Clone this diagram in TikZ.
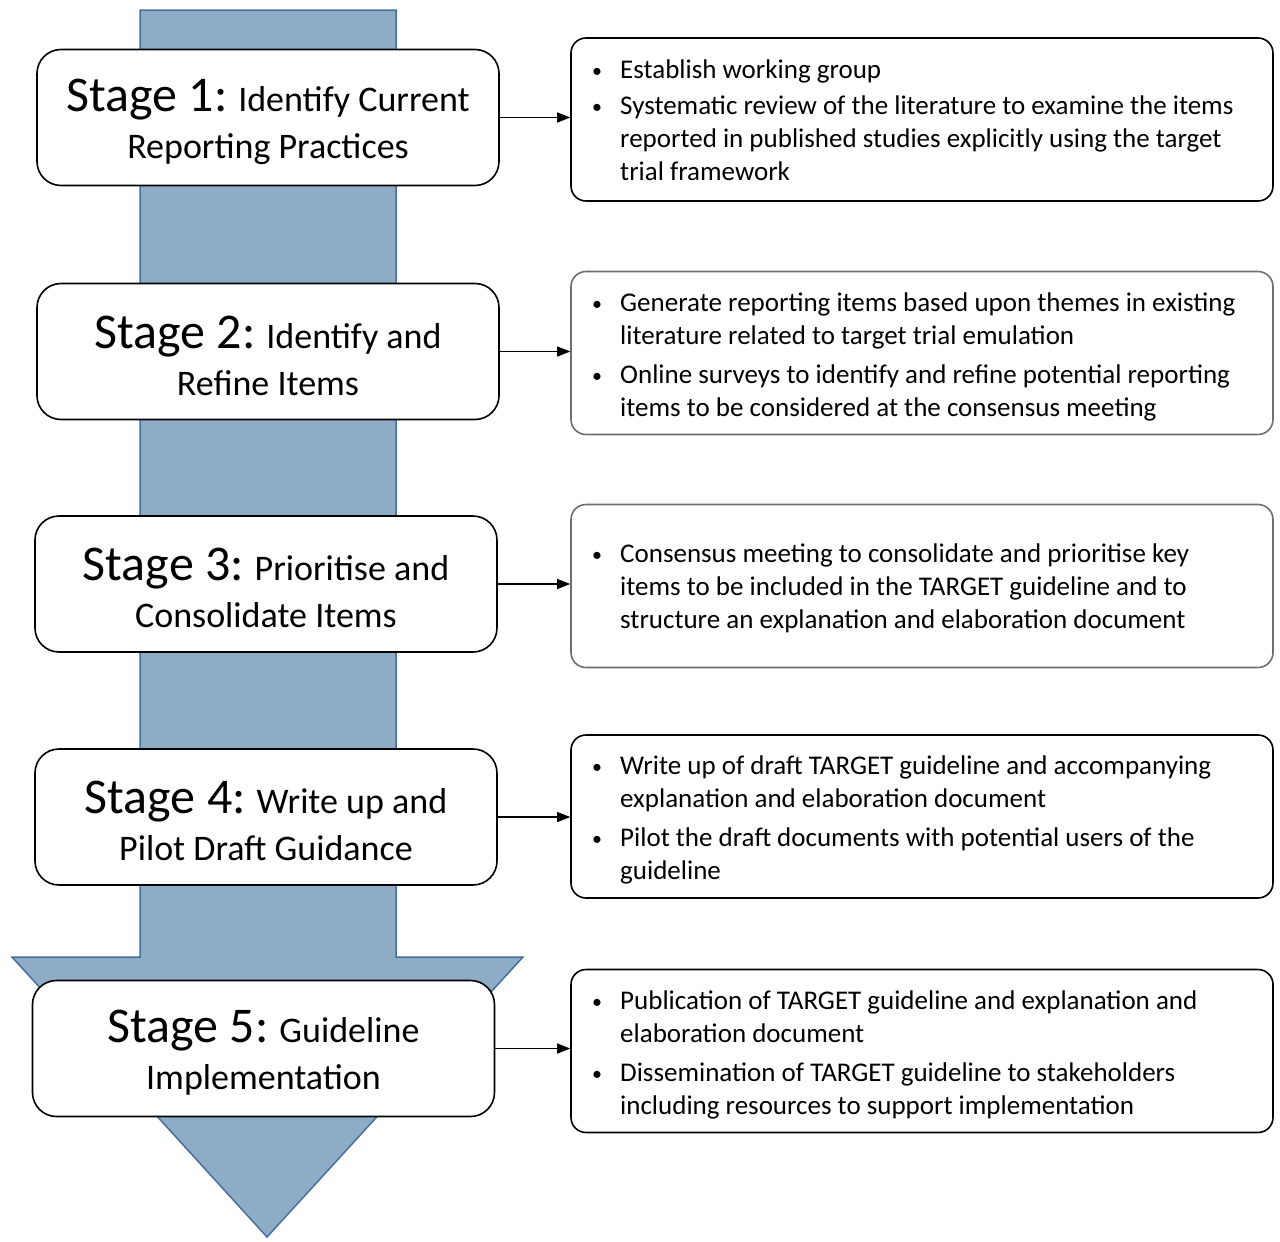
\documentclass[tikz,border=0pt]{standalone}
\usepackage{fontspec}
\setmainfont{Carlito}
\usetikzlibrary{arrows.meta}
\definecolor{arrowfill}{RGB}{143,172,198}
\definecolor{arrowline}{RGB}{68,112,160}
\definecolor{graybox}{RGB}{110,110,110}
\newcommand{\stg}[2]{{\fontsize{50}{50}\selectfont Stage #1:} #2}
\tikzset{
  stagebox/.style={draw=black, line width=1.6pt, fill=white, rounded corners=24pt,
    minimum width=462pt, minimum height=136pt, inner sep=0pt},
  stagetext/.style={align=center, inner sep=0pt, yshift=-4pt,
    font=\fontsize{36}{47}\selectfont},
  infobox/.style={draw=black, line width=1.6pt, fill=white, rounded corners=15pt,
    minimum width=702pt, minimum height=163pt, inner sep=0pt},
  infotext/.style={anchor=west, inner sep=0pt, align=left,
    font=\fontsize{27}{33}\selectfont},
  link/.style={line width=1.2pt, -{Triangle[length=13pt,width=10pt]}},
}
\newcommand{\bl}{\raisebox{1pt}{\fontsize{20}{20}\selectfont\textbullet}}
\begin{document}
\begin{tikzpicture}[x=1pt,y=-1pt]
\useasboundingbox (0,0) rectangle (1280,1242);
% big arrow
\draw[arrowline, line width=1.5pt, fill=arrowfill, line join=miter]
  (140,10) -- (396,10) -- (396,957) -- (523,957) -- (267,1237) -- (12,957) -- (140,957) -- cycle;
% stage boxes
\node[stagebox] (s1) at (268,117.5) {};
\node[stagebox] (s2) at (268,351.5) {};
\node[stagebox] (s3) at (266,584) {};
\node[stagebox] (s4) at (266,817) {};
\node[stagebox] (s5) at (263.5,1048.5) {};
\node[stagetext] (l1) at (s1.center) {\stg{1}{Identify Current}\\Reporting Practices};
\node[stagetext] (l2) at (s2.center) {\stg{2}{Identify and}\\Refine Items};
\node[stagetext] (l3) at (s3.center) {\stg{3}{Prioritise and}\\Consolidate Items};
\node[stagetext] (l4) at (s4.center) {\stg{4}{Write up and}\\Pilot Draft Guidance};
\node[stagetext] (l5) at (s5.center) {\stg{5}{Guideline}\\Implementation};
% info boxes
\node[infobox] (b1) at (922,119.5) {};
\node[infobox, draw=graybox] (b2) at (922,353) {};
\node[infobox, draw=graybox] (b3) at (922,586) {};
\node[infobox] (b4) at (922,816.5) {};
\node[infobox] (b5) at (922,1051) {};
% info texts
\node[infotext] (t1) at (592,123) {\begin{tabular}{@{}p{28pt}@{}l@{}}
\bl & Establish working group\\[3pt]
\bl & Systematic review of the literature to examine the items\\
 & reported in published studies explicitly using the target\\
 & trial framework
\end{tabular}};
\node[infotext] (t2) at (592,357) {\begin{tabular}{@{}p{28pt}@{}l@{}}
\bl & Generate reporting items based upon themes in existing\\
 & literature related to target trial emulation\\[6pt]
\bl & Online surveys to identify and refine potential reporting\\
 & items to be considered at the consensus meeting
\end{tabular}};
\node[infotext] (t3) at (592,589) {\begin{tabular}{@{}p{28pt}@{}l@{}}
\bl & Consensus meeting to consolidate and prioritise key\\
 & items to be included in the TARGET guideline and to\\
 & structure an explanation and elaboration document
\end{tabular}};
\node[infotext] (t4) at (592,820) {\begin{tabular}{@{}p{28pt}@{}l@{}}
\bl & Write up of draft TARGET guideline and accompanying\\
 & explanation and elaboration document\\[6pt]
\bl & Pilot the draft documents with potential users of the\\
 & guideline
\end{tabular}};
\node[infotext] (t5) at (592,1055) {\begin{tabular}{@{}p{28pt}@{}l@{}}
\bl & Publication of TARGET guideline and explanation and\\
 & elaboration document\\[6pt]
\bl & Dissemination of TARGET guideline to stakeholders\\
 & including resources to support implementation
\end{tabular}};
% connectors
\draw[link] (s1.east) -- (b1.west |- s1.east);
\draw[link] (s2.east) -- (b2.west |- s2.east);
\draw[link] (s3.east) -- (b3.west |- s3.east);
\draw[link] (s4.east) -- (b4.west |- s4.east);
\draw[link] (s5.east) -- (b5.west |- s5.east);
\end{tikzpicture}
\end{document}
